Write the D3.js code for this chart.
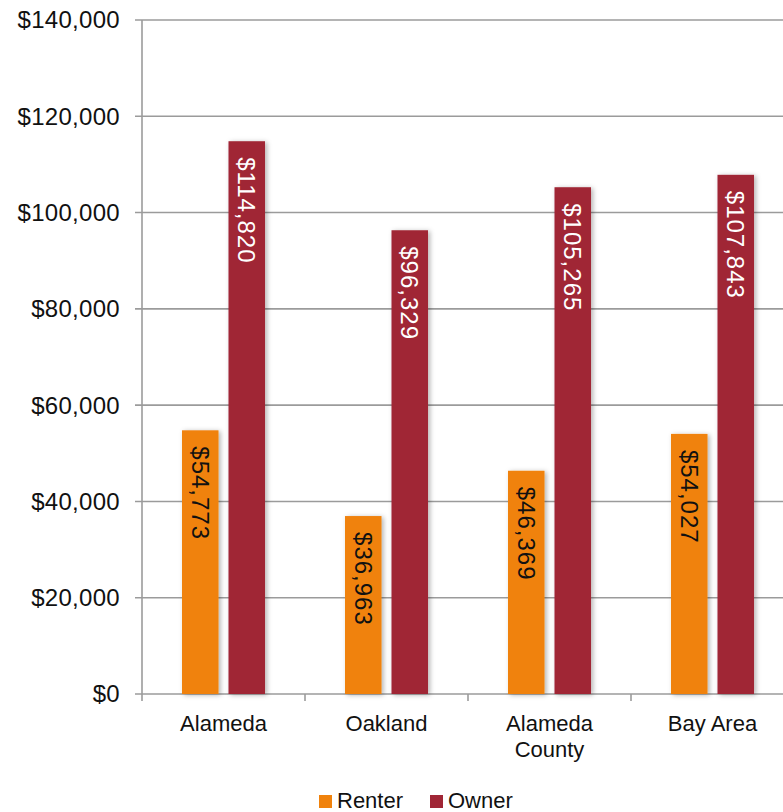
<!DOCTYPE html>
<html><head><meta charset="utf-8">
<script src="https://cdn.jsdelivr.net/npm/d3@7"></script>
<style>body{margin:0;background:#fff}svg{display:block}text{font-family:"Liberation Sans",Arial,sans-serif}</style>
</head><body>
<svg id="c" width="783" height="812"></svg>
<script>
const categories = [["Alameda"], ["Oakland"], ["Alameda", "County"], ["Bay Area"]];
const seriesNames = ["Renter", "Owner"];
const renter = [54773, 36963, 46369, 54027];
const owner = [114820, 96329, 105265, 107843];
const yTicks = [0, 20000, 40000, 60000, 80000, 100000, 120000, 140000];
const colors = ["#F0820C", "#A02636"];

const svg = d3.select("#c");
const defs = svg.append("defs");
const f = defs.append("filter").attr("id","sh").attr("x","-30%").attr("y","-10%").attr("width","160%").attr("height","120%");
f.append("feDropShadow").attr("dx",2).attr("dy",1).attr("stdDeviation",2.5).attr("flood-color","#000").attr("flood-opacity",0.3);

const pL = 142, pR = 794, pT = 20, pB = 694;
const y = d3.scaleLinear().domain([0, 140000]).range([pB, pT]);
const x = d3.scaleBand().domain(d3.range(categories.length)).range([pL, pR]).padding(0);
const inner = d3.scaleBand().domain([0,1]).range([0, x.bandwidth()]).paddingInner(0.215).paddingOuter(0.86);

const grid = "#9b9b9b";
svg.append("g").selectAll("line").data(yTicks).join("line")
  .attr("x1", pL - 7).attr("x2", pR).attr("y1", d => y(d)).attr("y2", d => y(d))
  .attr("stroke", grid).attr("stroke-width", 1.6);
svg.append("line").attr("x1", pL).attr("x2", pL).attr("y1", pT).attr("y2", pB)
  .attr("stroke", grid).attr("stroke-width", 1.6);
svg.append("g").selectAll("text").data(yTicks).join("text")
  .attr("x", 120).attr("y", d => y(d)).attr("dy", "0.35em").attr("text-anchor", "end")
  .attr("font-size", 24).attr("letter-spacing", 0.3).attr("fill", "#111").text(d => d3.format("$,")(d));
svg.append("g").selectAll("line").data(d3.range(categories.length + 1)).join("line")
  .attr("x1", i => pL + i * x.bandwidth()).attr("x2", i => pL + i * x.bandwidth())
  .attr("y1", pB).attr("y2", pB + 7).attr("stroke", grid).attr("stroke-width", 1.6);

const data = [renter, owner];
data.forEach((vals, s) => {
  const g = svg.append("g");
  g.selectAll("rect").data(vals).join("rect")
    .attr("x", (d, i) => x(i) + inner(s)).attr("width", inner.bandwidth())
    .attr("y", d => y(d)).attr("height", d => pB - y(d))
    .attr("fill", colors[s]).attr("filter", "url(#sh)");
  g.selectAll("text").data(vals).join("text")
    .attr("transform", (d, i) => `translate(${x(i) + inner(s) + inner.bandwidth() / 2},${y(d) + 16}) rotate(90)`)
    .attr("dy", "0.35em").attr("font-size", 24).attr("letter-spacing", 1)
    .attr("fill", s === 0 ? "#111" : "#fff").text(d => d3.format("$,")(d));
});

const cl = svg.append("g").selectAll("text").data(categories).join("text")
  .attr("x", (d, i) => x(i) + x.bandwidth() / 2).attr("y", 731)
  .attr("text-anchor", "middle").attr("font-size", 22).attr("fill", "#111");
cl.selectAll("tspan").data(d => d).join("tspan")
  .attr("x", function(){ return this.parentNode.getAttribute("x"); })
  .attr("dy", (d, i) => i === 0 ? 0 : 26).text(d => d);

const legX = [319, 430];
const lg = svg.append("g").selectAll("g").data(seriesNames).join("g")
  .attr("transform", (d, i) => `translate(${legX[i]},795)`);
lg.append("rect").attr("width", 13).attr("height", 13).attr("fill", (d, i) => colors[i]);
lg.append("text").attr("x", 18).attr("y", 13).attr("font-size", 22).attr("fill", "#111").text(d => d);
</script>
</body></html>
